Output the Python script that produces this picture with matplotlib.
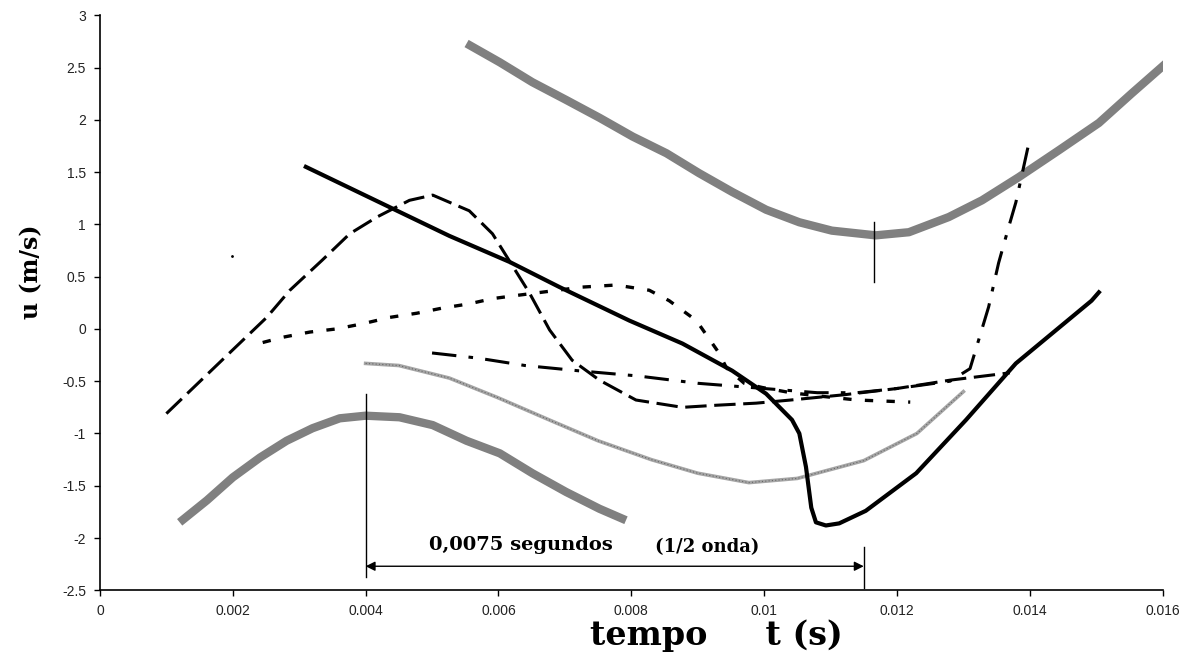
import numpy as np
import matplotlib.pyplot as plt
from matplotlib.ticker import FuncFormatter

# curva cinza grossa superior
t_sup = [0.00552, 0.00602, 0.00651, 0.00702, 0.00752, 0.00802, 0.00853, 0.00902, 0.00952,
         0.01003, 0.01053, 0.01102, 0.01168, 0.01218, 0.01278, 0.01328, 0.01383, 0.01444,
         0.01504, 0.01553, 0.01605]
u_sup = [2.73, 2.55, 2.36, 2.19, 2.02, 1.84, 1.68, 1.49, 1.31,
         1.14, 1.02, 0.94, 0.895, 0.925, 1.07, 1.23, 1.45, 1.71,
         1.97, 2.25, 2.54]

# curva cinza grossa inferior
t_inf = [0.0012, 0.00161, 0.0020, 0.00241, 0.00281, 0.0032, 0.00361, 0.0040, 0.00451,
         0.00501, 0.00552, 0.00602, 0.00651, 0.00702, 0.00752, 0.00792]
u_inf = [-1.85, -1.64, -1.42, -1.23, -1.07, -0.95, -0.855, -0.83, -0.845,
         -0.92, -1.07, -1.19, -1.38, -1.56, -1.72, -1.83]

# curva preta cheia
t_cheia = [0.0031, 0.00526, 0.00617, 0.00692, 0.00797, 0.00877, 0.00952, 0.01003, 0.01042,
           0.01053, 0.01063, 0.01071, 0.01078, 0.01093, 0.01113, 0.01153, 0.01229, 0.01304,
           0.01379, 0.01493, 0.01504]
u_cheia = [1.55, 0.89, 0.64, 0.40, 0.08, -0.14, -0.40, -0.62, -0.87,
           -1.0, -1.32, -1.71, -1.85, -1.88, -1.86, -1.74, -1.38, -0.87,
           -0.33, 0.27, 0.35]

# curva tracejada
t_trac = [0.0010, 0.0020, 0.00251, 0.00286, 0.00335, 0.00376, 0.00417, 0.00466, 0.00501,
          0.00556, 0.00591, 0.00647, 0.00677, 0.00711, 0.00752, 0.00807, 0.00877, 0.00928,
          0.00988, 0.01040, 0.01120, 0.01200, 0.01280, 0.01370]
u_trac = [-0.81, -0.20, 0.11, 0.37, 0.66, 0.91, 1.07, 1.23, 1.28,
          1.13, 0.91, 0.34, -0.01, -0.30, -0.49, -0.68, -0.75, -0.73,
          -0.71, -0.68, -0.63, -0.57, -0.49, -0.42]

# curva pontilhada
t_pont = [0.00245, 0.00275, 0.00316, 0.00356, 0.00396, 0.00436, 0.00477, 0.00516, 0.00556,
          0.00591, 0.00627, 0.00726, 0.00777, 0.00827, 0.00857, 0.00898, 0.00932, 0.00943,
          0.00970, 0.00997, 0.01040, 0.01080, 0.01140, 0.01220]
u_pont = [-0.13, -0.08, -0.03, 0.0, 0.05, 0.11, 0.15, 0.20, 0.24,
          0.29, 0.32, 0.40, 0.42, 0.37, 0.27, 0.08, -0.23, -0.37,
          -0.52, -0.56, -0.61, -0.64, -0.68, -0.70]

# curva traco-ponto
t_tp = [0.0050, 0.0057, 0.0064, 0.0072, 0.0081, 0.0090, 0.0100, 0.0108, 0.0114,
        0.0120, 0.0128, 0.0131, 0.01338, 0.01353, 0.01368, 0.01379, 0.01398]
u_tp = [-0.23, -0.28, -0.35, -0.40, -0.45, -0.52, -0.57, -0.61, -0.61,
        -0.57, -0.50, -0.38, 0.21, 0.63, 0.97, 1.21, 1.76]

# curva cinza fina
t_fina = [0.0040, 0.0045, 0.00526, 0.0060, 0.0068, 0.0075, 0.0083, 0.0090, 0.00977,
          0.0105, 0.0115, 0.0123, 0.0130]
u_fina = [-0.33, -0.35, -0.47, -0.66, -0.88, -1.07, -1.25, -1.38, -1.47,
          -1.43, -1.26, -1.0, -0.6]

fig = plt.figure(figsize=(11.9, 6.64), dpi=100)
ax = fig.add_axes([0.084, 0.111, 0.893, 0.866])

ax.plot(t_sup, u_sup, color='#808080', lw=6, solid_capstyle='butt', solid_joinstyle='round')
ax.plot(t_inf, u_inf, color='#808080', lw=6, solid_capstyle='butt', solid_joinstyle='round')
ax.plot(t_fina, u_fina, color='#a5a5a5', lw=2.6)
ax.plot(t_fina, u_fina, color='#666666', lw=0.8, linestyle=(0, (1, 2)))
ax.plot(t_trac, u_trac, color='black', lw=2.2, linestyle=(0, (7, 2.5)))
ax.plot(t_pont, u_pont, color='black', lw=2.4, linestyle=(0, (2.5, 4)))
ax.plot(t_tp, u_tp, color='black', lw=2.2, linestyle=(0, (8, 4, 1.5, 4)))
ax.plot(t_cheia, u_cheia, color='black', lw=3, solid_joinstyle='round')
ax.plot([0.00199], [0.70], marker='.', color='black', markersize=2)

# marcacoes de meia onda
ax.plot([0.004, 0.004], [-0.62, -2.37], color='black', lw=1)
ax.plot([0.0115, 0.0115], [-2.09, -2.48], color='black', lw=1)
ax.plot([0.01166, 0.01166], [1.02, 0.45], color='black', lw=1)
ax.annotate('', xy=(0.0115, -2.27), xytext=(0.004, -2.27),
            arrowprops=dict(arrowstyle='<|-|>', color='black', lw=1,
                            shrinkA=0, shrinkB=0, mutation_scale=14))
ax.text(0.00495, -2.07, '0,0075 segundos', fontsize=14, fontweight='bold',
        family='DejaVu Serif', va='center', ha='left')
ax.text(0.00836, -2.09, '(1/2 onda)', fontsize=13, fontweight='bold',
        family='DejaVu Serif', va='center', ha='left')

ax.set_xlim(0, 0.016)
ax.set_ylim(-2.5, 3)
ax.set_xticks(np.arange(0, 0.0161, 0.002))
ax.set_yticks(np.arange(-2.5, 3.01, 0.5))
ax.xaxis.set_major_formatter(FuncFormatter(lambda v, p: '%g' % round(v, 4)))
ax.yaxis.set_major_formatter(FuncFormatter(lambda v, p: '%g' % round(v, 2)))
for lab in ax.get_xticklabels() + ax.get_yticklabels():
    lab.set_family('Liberation Sans')
    lab.set_fontsize(10)
    lab.set_color('#222222')
ax.tick_params(direction='out', length=4, width=1, pad=6)
ax.spines['top'].set_visible(False)
ax.spines['right'].set_visible(False)
ax.spines['left'].set_linewidth(1.2)
ax.spines['bottom'].set_linewidth(1.2)

fig.text(0.602, 0.018, 'tempo     t (s)', fontsize=24, fontweight='bold',
         family='DejaVu Serif', ha='center', va='bottom')
fig.text(0.026, 0.59, 'u (m/s)', fontsize=17, fontweight='bold',
         family='DejaVu Serif', ha='center', va='center', rotation=90)

fig.savefig('out.png', dpi=100)
